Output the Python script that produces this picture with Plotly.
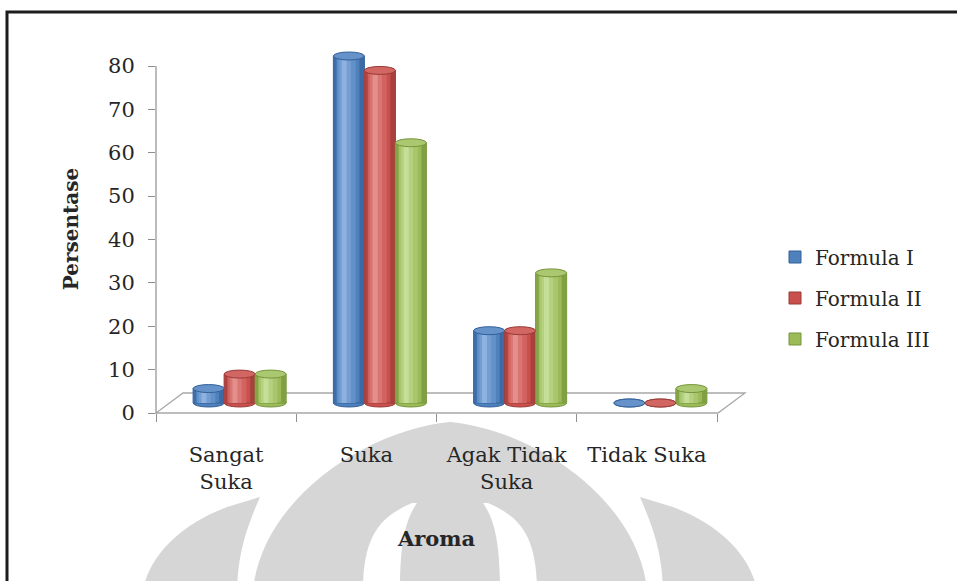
import plotly.graph_objects as go

# ---------------------------------------------------------------- data
categories = ["Sangat Suka", "Suka", "Agak Tidak Suka", "Tidak Suka"]
category_labels = ["Sangat<br>Suka", "Suka", "Agak Tidak<br>Suka", "Tidak Suka"]
series_names = ["Formula I", "Formula II", "Formula III"]
formula_i = [3.33, 80.0, 16.67, 0.0]
formula_ii = [6.67, 76.67, 16.67, 0.0]
formula_iii = [6.67, 60.0, 30.0, 3.33]
y_tick_values = [0, 10, 20, 30, 40, 50, 60, 70, 80]

# ------------------------------------------------------- geometry (px)
FIG_W, FIG_H = 957, 581
PLOT_L, PLOT_R, PLOT_T, PLOT_B = 156, 717, 45, 413
PLOT_W = PLOT_R - PLOT_L
PLOT_H = PLOT_B - PLOT_T
TOP_TICK_PX = 66                       # pixel row of the highest tick
PX_PER_UNIT = (PLOT_B - TOP_TICK_PX) / y_tick_values[-1]
Y_RANGE = [0, PLOT_H / PX_PER_UNIT]
X_RANGE = [-0.5, len(categories) - 0.5]
PX_PER_CAT = PLOT_W / len(categories)
FLOOR_DX, FLOOR_DY = 27, 20            # depth of the 3-D floor


def px_x(p):
    return (p - PLOT_L) / PLOT_W


def px_y(p):
    return (PLOT_B - p) / PLOT_H


# the cylinders stand half-way back on the floor
shift_x = (FLOOR_DX / 2) / PX_PER_CAT
shift_y = (FLOOR_DY / 2) / PX_PER_UNIT
X2_RANGE = [X_RANGE[0] - shift_x, X_RANGE[1] - shift_x]
Y2_RANGE = [Y_RANGE[0] - shift_y, Y_RANGE[1] - shift_y]

BAR_W = 31 / PX_PER_CAT                # one cylinder, in category units
CAP_H = 4 / PX_PER_UNIT                # half height of the elliptic caps

palette = [
    dict(dark="#33609a", main="#4f81bd", light="#8db2e0"),
    dict(dark="#9a3a37", main="#c9504d", light="#e38f8c"),
    dict(dark="#76953b", main="#9bbb59", light="#c6df98"),
]

TEXT = "#262626"
AXIS = "#8f8f8f"
FONT = "DejaVu Serif"


def mix(c1, c2, t):
    a = [int(c1[i:i + 2], 16) for i in (1, 3, 5)]
    b = [int(c2[i:i + 2], 16) for i in (1, 3, 5)]
    return "#" + "".join(f"{round(x + (y - x) * t):02x}" for x, y in zip(a, b))


fig = go.Figure()

# empty trace so the front (labelled) axes own a subplot
fig.add_trace(go.Scatter(x=[], y=[], xaxis="x", yaxis="y",
                         showlegend=False, hoverinfo="skip"))

idx = list(range(len(categories)))
shapes = []

for s, (name, values, pal) in enumerate(
        zip(series_names, [formula_i, formula_ii, formula_iii], palette)):
    left = (s - 1.5) * BAR_W
    # cylinder body
    fig.add_trace(go.Bar(
        x=idx, y=values, xaxis="x2", yaxis="y2",
        width=BAR_W, offset=left, name=name, legendgroup=name,
        marker=dict(color=pal["main"], line=dict(color=pal["dark"], width=1)),
        customdata=categories,
        hovertemplate="%{customdata}: %{y}<extra>" + name + "</extra>",
    ))
    # vertical shading strips to give the round look
    strips = [
        (0.10, 0.05, mix(pal["dark"], pal["main"], 0.4)),
        (0.16, 0.92, mix(pal["dark"], pal["main"], 0.3)),
        (0.60, 0.42, mix(pal["main"], pal["light"], 0.3)),
        (0.38, 0.38, mix(pal["main"], pal["light"], 0.6)),
        (0.16, 0.35, pal["light"]),
    ]
    for frac, centre, col in strips:
        fig.add_trace(go.Bar(
            x=idx, y=values, xaxis="x2", yaxis="y2",
            width=BAR_W * frac, offset=left + BAR_W * (centre - frac / 2),
            marker=dict(color=col, line=dict(width=0)),
            legendgroup=name, showlegend=False, hoverinfo="skip",
        ))
    # elliptic bottom and top caps
    for i, v in zip(idx, values):
        x0, x1 = i + left, i + left + BAR_W
        shapes.append(dict(type="circle", xref="x2", yref="y2", layer="below",
                           x0=x0, x1=x1, y0=-CAP_H, y1=CAP_H,
                           fillcolor=pal["main"],
                           line=dict(color=pal["dark"], width=1)))
        shapes.append(dict(type="circle", xref="x2", yref="y2", layer="above",
                           x0=x0, x1=x1, y0=v - CAP_H, y1=v + CAP_H,
                           fillcolor=mix(pal["main"], pal["light"], 0.35),
                           line=dict(color=pal["dark"], width=1)))


def svg_path(cmds):
    out = []
    for letter, pts in cmds:
        coords = " ".join(f"{px_x(x):.4f},{px_y(y):.4f}" for x, y in pts)
        out.append(f"{letter}{coords}")
    return " ".join(out) + " Z"


# background watermark (light grey arches)
WM = "#d6d6d6"
watermark = [
    # left arch piece
    [("M", [(227, 507)]), ("L", [(260, 497)]),
     ("C", [(248, 525), (238, 550), (237, 590)]), ("L", [(143, 590)]),
     ("C", [(150, 555), (180, 525), (227, 507)])],
    # right arch piece
    [("M", [(673, 507)]), ("L", [(640, 497)]),
     ("C", [(652, 525), (662, 550), (663, 590)]), ("L", [(757, 590)]),
     ("C", [(750, 555), (720, 525), (673, 507)])],
    # central dome
    [("M", [(253, 590)]), ("C", [(262, 500), (365, 430), (450, 422)]),
     ("C", [(535, 430), (638, 500), (647, 590)])],
]
for p in watermark:
    shapes.append(dict(type="path", xref="paper", yref="paper", layer="below",
                       path=svg_path(p), fillcolor=WM, line=dict(width=0)))
# white slits inside the dome
slits = [
    [("M", [(412, 503)]), ("C", [(385, 515), (363, 530), (363, 590)]),
     ("L", [(400, 590)]), ("C", [(400, 545), (405, 520), (417, 503)])],
    [("M", [(488, 503)]), ("C", [(515, 515), (537, 530), (537, 590)]),
     ("L", [(500, 590)]), ("C", [(500, 545), (495, 520), (483, 503)])],
]
for p in slits:
    shapes.append(dict(type="path", xref="paper", yref="paper", layer="below",
                       path=svg_path(p), fillcolor="white", line=dict(width=0)))

# chart frame
shapes.append(dict(type="rect", xref="paper", yref="paper", layer="below",
                   x0=px_x(7), x1=px_x(980), y0=px_y(12), y1=px_y(600),
                   line=dict(color="#1c1c1c", width=3), fillcolor="rgba(0,0,0,0)"))

# 3-D floor
fl, fr = PLOT_L, PLOT_R + 1
floor = [("M", [(fl, PLOT_B)]), ("L", [(fr, PLOT_B)]),
         ("L", [(fr + FLOOR_DX, PLOT_B - FLOOR_DY)]),
         ("L", [(fl + FLOOR_DX, PLOT_B - FLOOR_DY)])]
shapes.append(dict(type="path", xref="paper", yref="paper", layer="below",
                   path=svg_path(floor), fillcolor="white",
                   line=dict(color="#a8a8a8", width=1.3)))

# value axis line up to the last tick
shapes.append(dict(type="line", xref="paper", yref="y", layer="below",
                   x0=0, x1=0, y0=0, y1=y_tick_values[-1],
                   line=dict(color=AXIS, width=1.2)))

fig.update_layout(
    width=FIG_W, height=FIG_H,
    margin=dict(l=PLOT_L, r=FIG_W - PLOT_R, t=PLOT_T, b=FIG_H - PLOT_B,
                autoexpand=False),
    paper_bgcolor="white", plot_bgcolor="rgba(0,0,0,0)",
    barmode="overlay",
    font=dict(family=FONT, size=21, color=TEXT),
    shapes=shapes,
    showlegend=True,
    legend=dict(x=px_x(775), xanchor="left", y=px_y(298), yanchor="middle",
                font=dict(family=FONT, size=20, color=TEXT),
                tracegroupgap=12, bgcolor="rgba(0,0,0,0)"),
    xaxis=dict(
        range=X_RANGE, tickmode="array", tickvals=idx, ticktext=category_labels,
        ticks="", showgrid=False, zeroline=False, showline=False,
        ticklabelstandoff=27,
        minor=dict(tickmode="array", tickvals=[i - 0.5 for i in idx] + [idx[-1] + 0.5],
                   ticks="outside", ticklen=8, tickcolor=AXIS, tickwidth=1.2,
                   showgrid=False),
        title=dict(text="<b>Aroma</b>", standoff=38,
                   font=dict(family=FONT, size=21, color=TEXT)),
        fixedrange=True,
    ),
    yaxis=dict(
        range=Y_RANGE, tickmode="array", tickvals=y_tick_values,
        ticks="outside", ticklen=7, tickcolor=AXIS, tickwidth=1.2,
        showgrid=False, zeroline=False, showline=False,
        ticklabelstandoff=9,
        title=dict(text="<b>Persentase</b>", standoff=24,
                   font=dict(family=FONT, size=20, color=TEXT)),
        fixedrange=True,
    ),
    xaxis2=dict(range=X2_RANGE, overlaying="x", visible=False, fixedrange=True),
    yaxis2=dict(range=Y2_RANGE, overlaying="y", visible=False, fixedrange=True),
)

fig.write_html("out.html")
